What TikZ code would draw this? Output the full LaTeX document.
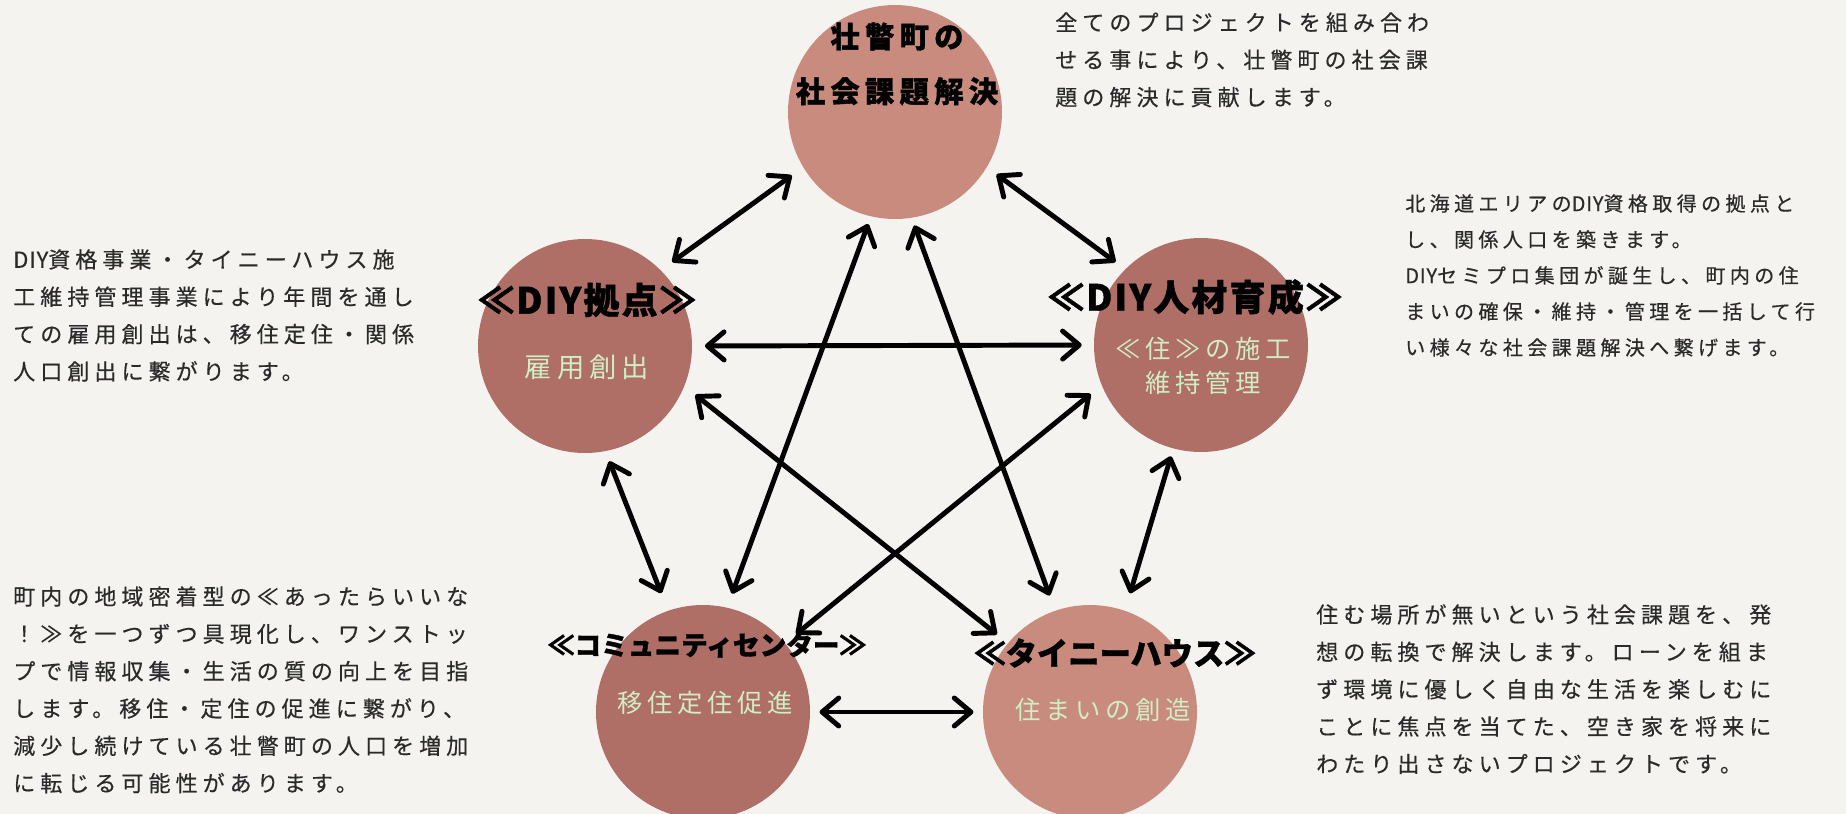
\documentclass[tikz,border=0pt]{standalone}
\usepackage{fontspec}
\usepackage{xcolor}
\usepackage{tikz}
\usetikzlibrary{arrows.meta}
\newfontfamily\jpfont[BoldFeatures={FakeBold=1.2}]{Noto Sans CJK JP}
\newfontfamily\jpplain[FakeBold=0.4, LetterSpace=4]{Noto Sans CJK JP}
\newfontfamily\jpwide[LetterSpace=23, FakeBold=0.4]{Noto Sans CJK JP}
\newfontfamily\jpnarrow[LetterSpace=22, FakeBold=0.4]{Noto Sans CJK JP}
\newfontfamily\jpmid[LetterSpace=18, BoldFeatures={FakeBold=1.2}]{Noto Sans CJK JP}
\newfontfamily\jptight[LetterSpace=6, BoldFeatures={FakeBold=1.2}]{Noto Sans CJK JP}
\newcommand{\plainlatin}[1]{{\jpplain #1}}
\definecolor{bgcol}{HTML}{F4F3F0}
\definecolor{roselight}{HTML}{C98B7D}
\definecolor{rosedark}{HTML}{AF6E66}
\definecolor{mint}{HTML}{CFEDC6}
\definecolor{inkgray}{HTML}{2A2A2A}
\tikzset{
    bubble/.style={circle, minimum size=160.5pt, inner sep=0pt},
    twoway/.style={{Straight Barb[length=12.5pt,width=21pt,round]}-{Straight Barb[length=12.5pt,width=21pt,round]}, line width=3.7pt},
    blurb/.style={anchor=north west, inner sep=0pt, align=left, text=inkgray, font=\jpwide\fontsize{16.5pt}{28pt}\selectfont},
    headline/.style={inner sep=0pt, align=center, font=\jptight\bfseries\fontsize{27pt}{41pt}\selectfont},
    subline/.style={inner sep=0pt, align=center, text=mint, font=\jpmid\fontsize{19pt}{26pt}\selectfont},
}
\begin{document}
\begin{tikzpicture}[x=0.75pt, y=-0.75pt]
                \fill[bgcol] (0,0) rectangle (1846,814);
                \useasboundingbox (0,0) rectangle (1846,814);
                \node[bubble, fill=roselight] (top) at (895,112) {};
                \node[bubble, fill=rosedark] (left) at (585,346) {};
                \node[bubble, fill=rosedark] (right) at (1201,345) {};
                \node[bubble, fill=rosedark] (bleft) at (703,712) {};
                \node[bubble, fill=roselight] (bright) at (1090,712) {};
                \draw[twoway, shorten <=10.5pt, shorten >=10.5pt] (top.211) -- (left.45);
                \draw[twoway, shorten <=9pt, shorten >=9pt] (top.329) -- (right.135);
                \draw[twoway, shorten <=9.5pt, shorten >=9pt] (left.east) -- (right.west);
                \draw[twoway, shorten <=6pt, shorten >=11pt] (top.257) -- (bleft.77);
                \draw[twoway, shorten <=6pt, shorten >=12pt] (top.279) -- (bright.109);
                \draw[twoway, shorten <=10.5pt, shorten >=10.5pt] (left.338) -- (bright.140);
                \draw[twoway, shorten <=10.5pt, shorten >=10.5pt] (right.202) -- (bleft.40);
                \draw[twoway, shorten <=8pt, shorten >=14pt] (left.281) -- (bleft.109);
                \draw[twoway, shorten <=6pt, shorten >=13.5pt] (right.255) -- (bright.71);
                \draw[twoway, shorten <=7pt, shorten >=7pt] (bleft.east) -- (bright.west);
                \node[headline, font=\jpmid\bfseries\fontsize{22pt}{41pt}\selectfont] (topttl) at (897,64) {壮瞥町の\\社会課題解決};
                \node[headline] (leftttl) at (587,300) {≪DIY拠点≫};
                \node[subline, font=\jpmid\fontsize{20.5pt}{26pt}\selectfont] (leftsub) at (587,367) {雇用創出};
                \node[headline] (rightttl) at (1195,297) {≪DIY人材育成≫};
                \node[subline] (rightsub) at (1203,366) {≪住≫の施工\\維持管理};
                \node[headline, font=\jpfont\bfseries\fontsize{20pt}{26pt}\selectfont] (bleftttl) at (707,645) {≪コミュニティセンター≫};
                \node[subline] (bleftsub) at (705,703) {移住定住促進};
                \node[headline, font=\jpfont\bfseries\fontsize{23.5pt}{26pt}\selectfont] (brightttl) at (1115,653) {≪タイニーハウス≫};
                \node[subline] (brightsub) at (1103,710) {住まいの創造};
                \node[blurb] (toptxt) at (1055,12) {全てのプロジェクトを組み合わ\\せる事により、壮瞥町の社会課\\題の解決に貢献します。};
                \node[blurb] (lefttxt) at (13,249) {\plainlatin{DIY}資格事業・タイニーハウス施\\工維持管理事業により年間を通し\\ての雇用創出は、移住定住・関係\\人口創出に繋がります。};
                \node[blurb, font=\jpnarrow\fontsize{15pt}{27pt}\selectfont] (righttxt) at (1405,194) {北海道エリアの\plainlatin{DIY}資格取得の拠点と\\し、関係人口を築きます。\\\plainlatin{DIY}セミプロ集団が誕生し、町内の住\\まいの確保・維持・管理を一括して行\\い様々な社会課題解決へ繋げます。};
                \node[blurb] (blefttxt) at (13,586) {町内の地域密着型の≪あったらいいな\\！≫を一つずつ具現化し、ワンストッ\\プで情報収集・生活の質の向上を目指\\します。移住・定住の促進に繋がり、\\減少し続けている壮瞥町の人口を増加\\に転じる可能性があります。};
                \node[blurb] (brighttxt) at (1316,604) {住む場所が無いという社会課題を、発\\想の転換で解決します。ローンを組ま\\ず環境に優しく自由な生活を楽しむに\\ことに焦点を当てた、空き家を将来に\\わたり出さないプロジェクトです。};
            \end{tikzpicture}
\end{document}
